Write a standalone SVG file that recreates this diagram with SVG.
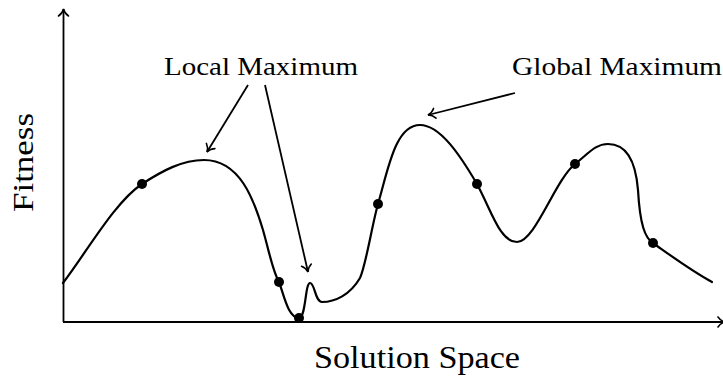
<svg xmlns="http://www.w3.org/2000/svg" width="723" height="379" viewBox="0 0 723 379">
<style>
.ln{fill:none;stroke:#000;stroke-width:2.2;stroke-linecap:round}
.ar{fill:none;stroke:#000;stroke-width:1.8;marker-end:url(#to)}
.t{font-family:"Liberation Serif","DejaVu Serif",serif;fill:#000}
.dot{fill:#000}
</style>
<defs>
<marker id="to" markerUnits="userSpaceOnUse" markerWidth="20" markerHeight="20" viewBox="-10 -10 20 20" refX="0" refY="0" orient="auto" overflow="visible">
<path d="M-7,-5 C-5,-2 -2,-0.5 0,0 C-2,0.5 -5,2 -7,5" fill="none" stroke="#000" stroke-width="1.6" stroke-linecap="round"/>
</marker>
</defs>
<rect width="723" height="379" fill="#fff"/>
<g id="axes">
<line class="ar" x1="63.5" y1="322" x2="63.5" y2="9"/>
<line class="ar" x1="63" y1="322" x2="725" y2="322"/>
</g>
<g id="curve">
<path class="ln" d="M63,283 C88,250 115,202 142,184 C162,171 182,160 204,160 C240,160 254,200 263,230 C270,255 273,272 279,282 C284,295 288,318 299,318 C306,318 305,283 310,283 C315,283 315,302 322,302 C335,302 350,295 360,278 C366,265 372,225 378,204 C388,170 395,125 420,125 C440,125 460,155 477,184 C492,212 500,242 517,242 C535,242 555,180 575,164 C588,154 595,144 608,144 C628,144 636,165 638,190 C640,225 645,238 653,243 C670,255 690,270 712,282"/>
</g>
<g id="points">
<circle class="dot" cx="142" cy="184" r="5"/>
<circle class="dot" cx="279" cy="282" r="5"/>
<circle class="dot" cx="299" cy="318" r="5"/>
<circle class="dot" cx="378" cy="204" r="5"/>
<circle class="dot" cx="477" cy="184" r="5"/>
<circle class="dot" cx="575" cy="164" r="5"/>
<circle class="dot" cx="653" cy="243" r="5"/>
</g>
<g id="connectors">
<line class="ar" x1="248" y1="85" x2="207" y2="152"/>
<line class="ar" x1="265" y1="85" x2="308" y2="272"/>
<line class="ar" x1="515" y1="93" x2="428" y2="115"/>
</g>
<g id="labels">
<text class="t" x="164" y="75" font-size="25" textLength="194" lengthAdjust="spacingAndGlyphs">Local Maximum</text>
<text class="t" x="512" y="75" font-size="25" textLength="210" lengthAdjust="spacingAndGlyphs">Global Maximum</text>
<text class="t" x="314" y="368" font-size="31" textLength="206" lengthAdjust="spacingAndGlyphs">Solution Space</text>
<text class="t" transform="translate(33,212) rotate(-90)" x="0" y="0" font-size="30" textLength="99" lengthAdjust="spacingAndGlyphs">Fitness</text>
</g>
</svg>
